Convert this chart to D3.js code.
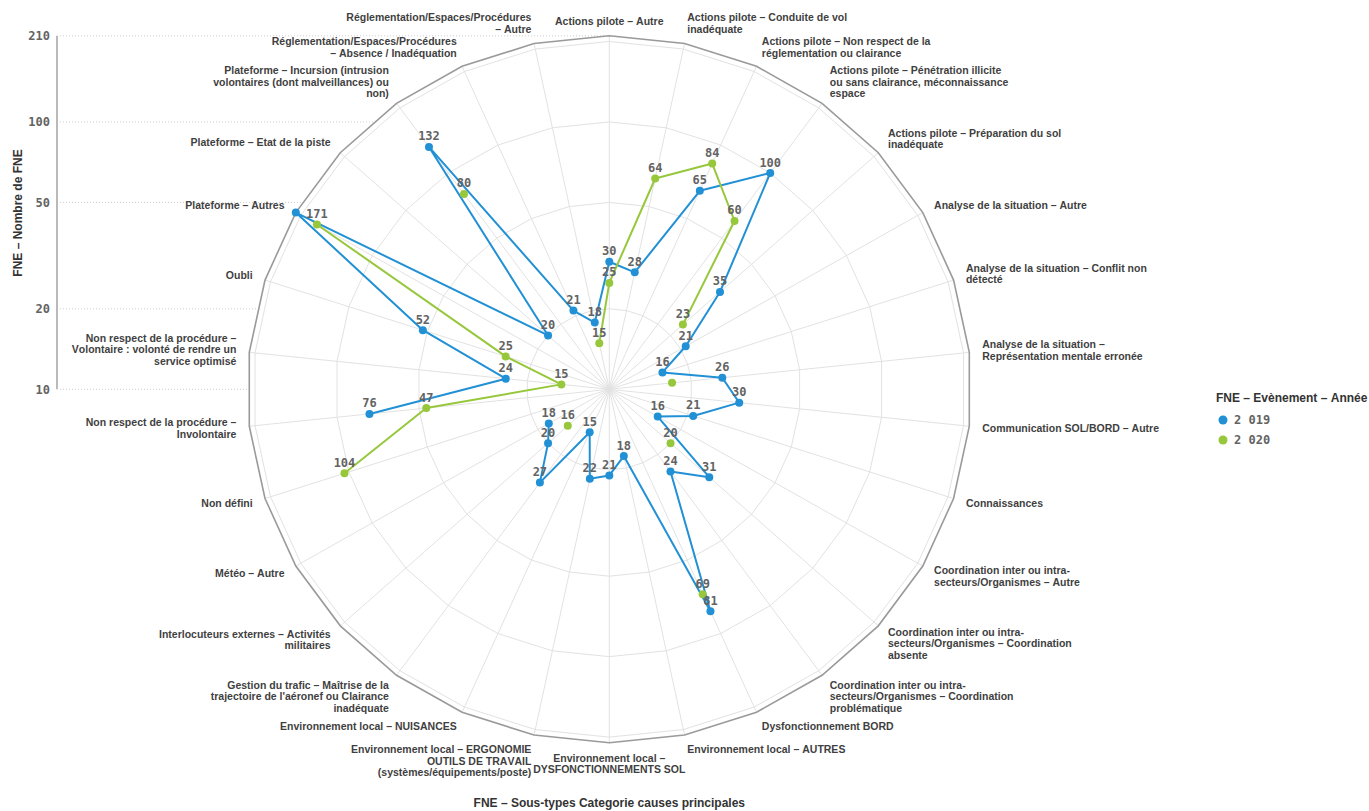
<!DOCTYPE html>
<html>
<head>
<meta charset="utf-8">
<script src="https://cdn.jsdelivr.net/npm/d3@7"></script>
<style>
  html, body { margin: 0; padding: 0; background: #fff; }
  svg { display: block; font-kerning: none; }
  .cat { font-family: "Liberation Sans", Arial, sans-serif; font-weight: bold; font-size: 10.5px; fill: #3f3f3f; }
  .num { font-family: "DejaVu Sans Mono", monospace; font-weight: bold; font-size: 12px; fill: #636363; }
  .title { font-family: "Liberation Sans", Arial, sans-serif; font-weight: bold; font-size: 12px; fill: #333; }
</style>
</head>
<body>
<svg id="chart" width="1369" height="811"></svg>
<script>
// Sous-types de causes principales (axes du radar)
const categories = [
  "Actions pilote – Autre",
  "Actions pilote – Conduite de vol inadéquate",
  "Actions pilote – Non respect de la réglementation ou clairance",
  "Actions pilote – Pénétration illicite ou sans clairance, méconnaissance espace",
  "Actions pilote – Préparation du sol inadéquate",
  "Analyse de la situation – Autre",
  "Analyse de la situation – Conflit non détecté",
  "Analyse de la situation – Représentation mentale erronée",
  "Communication SOL/BORD – Autre",
  "Connaissances",
  "Coordination inter ou intra-secteurs/Organismes – Autre",
  "Coordination inter ou intra-secteurs/Organismes – Coordination absente",
  "Coordination inter ou intra-secteurs/Organismes – Coordination problématique",
  "Dysfonctionnement BORD",
  "Environnement local – AUTRES",
  "Environnement local – DYSFONCTIONNEMENTS SOL",
  "Environnement local – ERGONOMIE OUTILS DE TRAVAIL (systèmes/équipements/poste)",
  "Environnement local – NUISANCES",
  "Gestion du trafic – Maîtrise de la trajectoire de l'aéronef ou Clairance inadéquate",
  "Interlocuteurs externes – Activités militaires",
  "Météo – Autre",
  "Non défini",
  "Non respect de la procédure – Involontaire",
  "Non respect de la procédure – Volontaire : volonté de rendre un service optimisé",
  "Oubli",
  "Plateforme – Autres",
  "Plateforme – Etat de la piste",
  "Plateforme – Incursion (intrusion volontaires (dont malveillances) ou non)",
  "Réglementation/Espaces/Procédures – Absence / Inadéquation",
  "Réglementation/Espaces/Procédures – Autre"
];

// Nombre de FNE par sous-type (null = aucune valeur)
const values2019 = [30, 28, 65, 100, 35, 21, 16, 26, 30, 21, 16, 31, 24, 81, 18, 21, 22, 15, 27, 20, 18, null, 76, 24, 52, 210, 20, 132, 21, 18];
const values2020 = [25, 64, 84, 60, 23, null, null, 17, null, null, null, 20, null, 69, null, null, null, null, null, 16, null, 104, 47, 15, 25, 171, null, 80, null, 15];

const seriesNames = ["2 019", "2 020"];
const seriesColors = ["#2190d4", "#97c73b"];

// Échelle radiale logarithmique
const radialMin = 10, radialMax = 210;
const radialTicks = [10, 20, 50, 100, 210];
const gridValues = [20, 50, 100, 200];

// Étiquettes masquées car superposées à une autre
const hiddenLabels = [
  [0, "Plateforme – Autres"],
  [1, "Analyse de la situation – Représentation mentale erronée"]
];

const svg = d3.select("#chart");
const cx = 609.3, cy = 389.3, rx = 362, ry = 353.5;
const n = categories.length;

const r = d3.scaleLog().domain([radialMin, radialMax]).range([0, 1]);
const angle = d3.scaleLinear().domain([0, n]).range([0, 2 * Math.PI]);
const px = (i, t) => cx + rx * t * Math.sin(angle(i));
const py = (i, t) => cy - ry * t * Math.cos(angle(i));
const yAxisScale = v => cy - ry * r(v);

// Axe vertical gauche avec lignes pointillées
const gAxis = svg.append("g");
gAxis.selectAll("line.grid").data(radialTicks).join("line")
  .attr("x1", 60).attr("x2", cx)
  .attr("y1", d => yAxisScale(d)).attr("y2", d => yAxisScale(d))
  .attr("stroke", "#cfcfcf").attr("stroke-width", 1).attr("stroke-dasharray", "1,2");
gAxis.append("line")
  .attr("x1", 57).attr("x2", 57)
  .attr("y1", yAxisScale(radialMax)).attr("y2", yAxisScale(radialMin))
  .attr("stroke", "#a3a3a3").attr("stroke-width", 1.5);
gAxis.selectAll("text.tick").data(radialTicks).join("text")
  .attr("class", "num")
  .attr("x", 50).attr("y", d => yAxisScale(d) + 4.3)
  .attr("text-anchor", "end")
  .text(d => d);

svg.append("text").attr("class", "title")
  .attr("transform", "translate(22,213) rotate(-90)")
  .attr("text-anchor", "middle")
  .text("FNE – Nombre de FNE");

svg.append("text").attr("class", "title")
  .attr("x", cx).attr("y", 807)
  .attr("text-anchor", "middle")
  .text("FNE – Sous-types Categorie causes principales");

// Fond du radar
const idx = d3.range(n);
const ring = t => idx.map(i => [px(i, t), py(i, t)]);
const poly = d3.line().curve(d3.curveLinearClosed);

svg.append("path").attr("d", poly(ring(1))).attr("fill", "#fff");

const gGrid = svg.append("g");
gGrid.selectAll("line").data(idx).join("line")
  .attr("x1", cx).attr("y1", cy)
  .attr("x2", i => px(i, 1)).attr("y2", i => py(i, 1))
  .attr("stroke", "#e2e2e2").attr("stroke-width", 1);
gGrid.selectAll("path.ring").data(gridValues).join("path")
  .attr("d", v => poly(ring(r(v))))
  .attr("fill", "none").attr("stroke", "#e2e2e2").attr("stroke-width", 1);
svg.append("path").attr("d", poly(ring(1)))
  .attr("fill", "none").attr("stroke", "#9a9a9a").attr("stroke-width", 1.6);

// Étiquettes des catégories, avec retour à la ligne
const measurer = svg.append("text").attr("class", "cat").attr("visibility", "hidden");
const textWidth = s => { measurer.text(s); return measurer.node().getComputedTextLength(); };
function wrapLabel(label, maxW) {
  const tokens = [];
  label.split(" ").forEach(w => {
    const parts = w.split(/(?<=-)(?=.)/);
    parts.forEach((p, k) => tokens.push({ t: p, sp: k === 0 }));
  });
  const lines = [];
  let cur = "";
  tokens.forEach(tok => {
    const cand = cur === "" ? tok.t : cur + (tok.sp ? " " : "") + tok.t;
    if (cur !== "" && textWidth(cand) > maxW) { lines.push(cur); cur = tok.t; }
    else cur = cand;
  });
  if (cur) lines.push(cur);
  return lines;
}

const lh = 11.5;
const gLabels = svg.append("g");
categories.forEach((c, i) => {
  const a = angle(i), sa = Math.sin(a), ca = Math.cos(a);
  const lines = wrapLabel(c, 186);
  const k = lines.length;
  const ax = cx + (rx + 13) * sa;
  const ay = cy - (ry + 15) * ca;
  const anchor = Math.abs(sa) < 0.1 ? "middle" : (sa > 0 ? "start" : "end");
  const center = ay - ca * (k - 1) * lh / 2;
  const first = center - (k - 1) * lh / 2 + 3.7;
  const t = gLabels.append("text").attr("class", "cat").attr("text-anchor", anchor);
  lines.forEach((ln, j) => t.append("tspan").attr("x", ax).attr("y", first + j * lh).text(ln));
});
measurer.remove();

// Séries
const series = [values2019, values2020].map((vals, s) => ({
  name: seriesNames[s], color: seriesColors[s],
  pts: vals.map((v, i) => ({ i, v }))
}));

const line = d3.line()
  .defined(d => d.v != null)
  .x(d => px(d.i, r(d.v)))
  .y(d => py(d.i, r(d.v)));

const gSeries = svg.append("g");
series.forEach(s => {
  const closed = s.pts.concat([{ i: n, v: s.pts[0].v }]);
  gSeries.append("path").attr("d", line(closed))
    .attr("fill", "none").attr("stroke", s.color).attr("stroke-width", 2)
    .attr("stroke-linejoin", "round");
});
series.forEach(s => {
  gSeries.append("g").selectAll("circle").data(s.pts.filter(d => d.v != null)).join("circle")
    .attr("cx", d => px(d.i, r(d.v))).attr("cy", d => py(d.i, r(d.v)))
    .attr("r", 4).attr("fill", s.color);
});

const isHidden = (s, i) => hiddenLabels.some(h => h[0] === s && h[1] === categories[i]);
const gValues = svg.append("g");
series.forEach((s, si) => {
  gValues.append("g").selectAll("text").data(s.pts.filter(d => d.v != null && !isHidden(si, d.i))).join("text")
    .attr("class", "num")
    .attr("x", d => px(d.i, r(d.v)))
    .attr("y", d => py(d.i, r(d.v)) - 6.5)
    .attr("text-anchor", "middle")
    .text(d => d.v);
});

// Légende
const gLeg = svg.append("g");
gLeg.append("text").attr("class", "title").attr("x", 1216).attr("y", 402).text("FNE – Evènement – Année");
series.forEach((s, si) => {
  const y = 420 + si * 20;
  gLeg.append("circle").attr("cx", 1223).attr("cy", y).attr("r", 4.5).attr("fill", s.color);
  gLeg.append("text").attr("class", "num").attr("x", 1234).attr("y", y + 4.3).text(s.name);
});
</script>
</body>
</html>
